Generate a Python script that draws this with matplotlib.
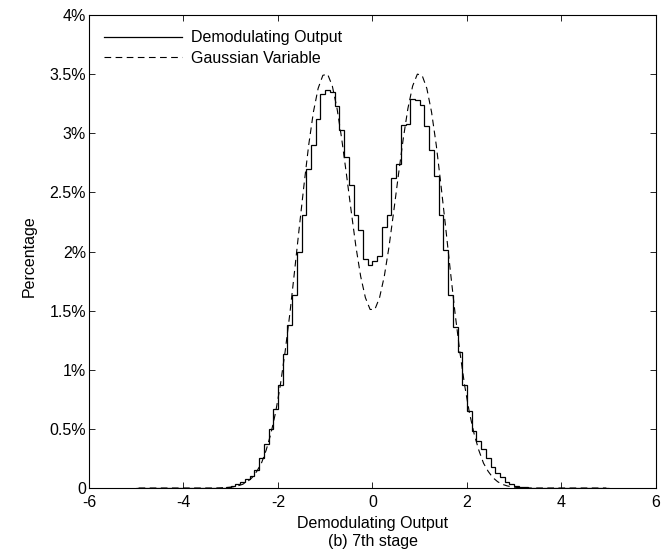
import numpy as np
import matplotlib
matplotlib.use("Agg")
import matplotlib.pyplot as plt
from matplotlib.ticker import FixedLocator, FixedFormatter

# histogram bin edges (-5 .. 5, width 0.1) and bin centers
bin_edges = np.round(np.linspace(-5, 5, 101), 2)
bin_centers = (bin_edges[:-1] + bin_edges[1:]) / 2

# demodulating output histogram, percent per bin
hist_pct = [
    0.0, 0.0, 0.0, 0.0, 0.0, 0.0, 0.0, 0.0, 0.0, 0.0,
    0.0, 0.0, 0.0, 0.0, 0.0,
    0.001, 0.002, 0.003, 0.004, 0.008,
    0.016, 0.03, 0.05, 0.08, 0.10, 0.15, 0.25, 0.37, 0.50, 0.67,
    0.87, 1.13, 1.38, 1.63, 2.00, 2.31, 2.70, 2.90, 3.12, 3.33,
    3.37, 3.35, 3.23, 3.03, 2.80, 2.56, 2.31, 2.18, 1.94, 1.89,
    1.92, 1.96, 2.21, 2.31, 2.62, 2.74, 3.07, 3.08, 3.29, 3.28,
    3.24, 3.06, 2.86, 2.64, 2.31, 2.01, 1.63, 1.36, 1.15, 0.87,
    0.65, 0.48, 0.40, 0.33, 0.25, 0.18, 0.13, 0.09, 0.055, 0.035,
    0.02, 0.012, 0.007, 0.004, 0.002, 0.001,
    0.0, 0.0, 0.0, 0.0, 0.0, 0.0, 0.0, 0.0, 0.0, 0.0,
    0.0, 0.0, 0.0, 0.0,
]

# gaussian reference curve at bin centers, percent
gauss_pct = [
    0.0, 0.0, 0.0, 0.0, 0.0, 0.0, 0.0, 0.0, 0.0, 0.0,
    0.0, 0.0, 0.0, 0.0, 0.0, 0.0, 0.0,
    0.001, 0.003, 0.005,
    0.010, 0.018, 0.031, 0.053, 0.087, 0.14, 0.21, 0.32, 0.46, 0.64,
    0.87, 1.15, 1.47, 1.83, 2.20, 2.56, 2.90, 3.18, 3.38, 3.49,
    3.50, 3.40, 3.21, 2.95, 2.65, 2.34, 2.04, 1.79, 1.61, 1.51,
    1.51, 1.61, 1.79, 2.04, 2.34, 2.65, 2.95, 3.21, 3.40, 3.50,
    3.49, 3.38, 3.18, 2.90, 2.56, 2.20, 1.83, 1.47, 1.15, 0.87,
    0.64, 0.46, 0.32, 0.21, 0.14, 0.087, 0.053, 0.031, 0.018, 0.010,
    0.005, 0.003, 0.001,
    0.0, 0.0, 0.0, 0.0, 0.0, 0.0, 0.0, 0.0, 0.0, 0.0,
    0.0, 0.0, 0.0, 0.0, 0.0, 0.0, 0.0,
]

x_ticks = [-6, -4, -2, 0, 2, 4, 6]
y_ticks = [0, 0.5, 1, 1.5, 2, 2.5, 3, 3.5, 4]
y_tick_labels = ["0", "0.5%", "1%", "1.5%", "2%", "2.5%", "3%", "3.5%", "4%"]

plt.rcParams["font.family"] = ["Liberation Sans", "DejaVu Sans"]
plt.rcParams["font.size"] = 11.5
plt.rcParams["axes.unicode_minus"] = False

fig = plt.figure(figsize=(6.63, 5.5), dpi=100)
ax = fig.add_axes([0.1342, 0.1127, 0.8552, 0.86])

ax.stairs(hist_pct, bin_edges, baseline=None, color="black", linewidth=0.9,
          label="Demodulating Output")
ax.plot(bin_centers, gauss_pct, color="black", linewidth=0.8,
        linestyle=(0, (6, 4)), label="Gaussian Variable")

ax.set_xlim(-6, 6)
ax.set_ylim(0, 4)
ax.xaxis.set_major_locator(FixedLocator(x_ticks))
ax.yaxis.set_major_locator(FixedLocator(y_ticks))
ax.yaxis.set_major_formatter(FixedFormatter(y_tick_labels))
ax.tick_params(direction="in", length=4, width=0.6, top=True, right=True,
               labelsize=11.5)
ax.tick_params(axis="x", pad=5)
ax.tick_params(axis="y", pad=2)
for sp in ax.spines.values():
    sp.set_linewidth(0.8)

ax.set_ylabel("Percentage", fontsize=11.5)
ax.yaxis.set_label_coords(-0.092, 0.49)

leg = ax.legend(loc="upper left", frameon=False, handlelength=4.9,
                handletextpad=0.55, borderaxespad=0.5, borderpad=0.45,
                labelspacing=0.35, fontsize=11.5)

fig.text(0.562, 0.049, "Demodulating Output", ha="center", va="center",
         fontsize=11.5)
fig.text(0.562, 0.016, "(b) 7th stage", ha="center", va="center",
         fontsize=11.5)

fig.savefig("out.png", dpi=100)
